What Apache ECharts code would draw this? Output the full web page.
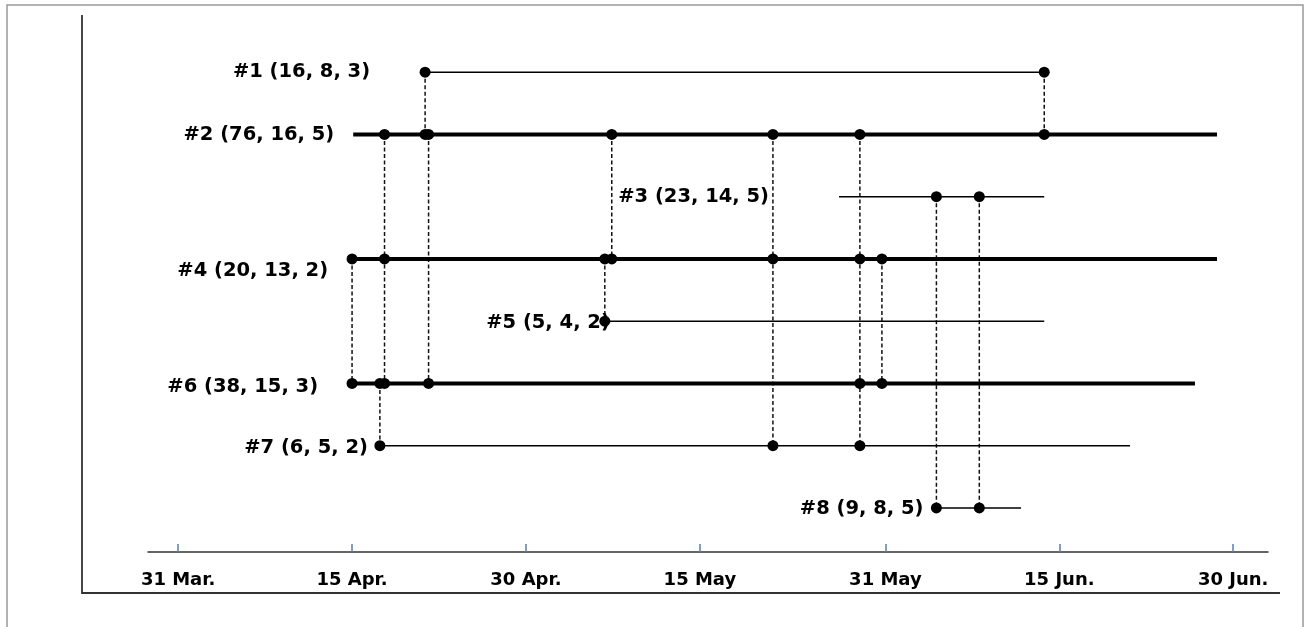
<!DOCTYPE html>
<html>
<head>
<meta charset="utf-8">
<script src="https://cdn.jsdelivr.net/npm/echarts@6/dist/echarts.min.js"></script>
<style>
    html, body { margin: 0; padding: 0; background: #fff; }
    #chart { width: 1310px; height: 627px; }
</style>
</head>
<body>
<div id="chart"></div>
<script>
"use strict";

// x values are days counted from 31 Mar.
var tickDays = [0, 15, 30, 45, 61, 76, 91];
var tickLabels = ["31 Mar.", "15 Apr.", "30 Apr.", "15 May", "31 May", "15 Jun.", "30 Jun."];

var rowNames = ["#1 (16, 8, 3)", "#2 (76, 16, 5)", "#3 (23, 14, 5)", "#4 (20, 13, 2)",
                "#5 (5, 4, 2)", "#6 (38, 15, 3)", "#7 (6, 5, 2)", "#8 (9, 8, 5)"];
var rowStart = [21.3, 15.1, 57.0, 15.0, 36.8, 15.0, 17.4, 65.4];
var rowEnd   = [74.7, 89.6, 74.7, 89.6, 74.7, 87.7, 82.1, 72.7];

// dots on each row
var rowDots = [
    [21.3, 74.7],
    [17.8, 21.3, 21.6, 37.4, 51.3, 58.8, 74.7],
    [65.4, 69.1],
    [15.0, 17.8, 36.8, 37.4, 51.3, 58.8, 60.7],
    [36.8],
    [15.0, 17.4, 17.8, 21.6, 58.8, 60.7],
    [17.4, 51.3, 58.8],
    [65.4, 69.1]
];

// dashed links: [day, from row, to row]
var links = [
    [21.3, 1, 2], [74.7, 1, 2],
    [21.6, 2, 6], [17.8, 2, 6], [37.4, 2, 4], [51.3, 2, 7], [58.8, 2, 7],
    [15.0, 4, 6], [36.8, 4, 5], [60.7, 4, 6],
    [17.4, 6, 7],
    [65.4, 3, 8], [69.1, 3, 8]
];

// styling per row
var rowWidth = [1.5, 4, 1.5, 4, 1.5, 4, 1.5, 1.5];
var labelGap = [55, 19, 70, 24, -5, 34, 12, 13];
var labelShiftY = [0, 1, 0, 12, 2, 4, 2, 1];

var chart = echarts.init(document.getElementById("chart"));

var series = [];

links.forEach(function (l) {
    series.push({
        type: "line",
        symbol: "none",
        silent: true,
        z: 2,
        lineStyle: { color: "#111", width: 1.5, type: [4, 2.5] },
        data: [[l[0], l[1]], [l[0], l[2]]]
    });
});

rowNames.forEach(function (name, i) {
    series.push({
        type: "line",
        symbol: "none",
        silent: true,
        z: 3,
        lineStyle: { color: "#000", width: rowWidth[i] },
        data: [[rowStart[i], i + 1], [rowEnd[i], i + 1]]
    });
});

var dotData = [];
rowDots.forEach(function (days, i) {
    days.forEach(function (d) { dotData.push([d, i + 1]); });
});
series.push({
    type: "scatter",
    symbolSize: 11,
    silent: true,
    z: 5,
    itemStyle: { color: "#000", opacity: 1 },
    data: dotData
});

series.push({
    type: "scatter",
    symbolSize: 0,
    silent: true,
    z: 6,
    itemStyle: { opacity: 1 },
    label: {
        show: true,
        position: "left",
        fontFamily: "DejaVu Sans",
        fontWeight: "bold",
        fontSize: 19.5,
        color: "#000",
        formatter: function (p) { return rowNames[p.dataIndex]; }
    },
    data: rowNames.map(function (n, i) {
        return {
            value: [rowStart[i], i + 1],
            label: { distance: labelGap[i], offset: [0, labelShiftY[i]] }
        };
    })
});

chart.setOption({
    animation: false,
    backgroundColor: "#fff",
    grid: { left: 148, right: 42, top: 41, bottom: 88 },
    xAxis: {
        type: "value",
        min: -2.6,
        max: 94.0,
        offset: 13,
        splitLine: { show: false },
        axisLine: { lineStyle: { color: "#333", width: 1.5 } },
        axisTick: {
            show: true,
            inside: true,
            length: 8,
            customValues: tickDays,
            lineStyle: { color: "#5a7db5", width: 1.5 }
        },
        axisLabel: {
            customValues: tickDays,
            margin: 19,
            fontFamily: "DejaVu Sans",
            fontWeight: "bold",
            fontSize: 18,
            color: "#000",
            formatter: function (v) {
                var k = tickDays.indexOf(v);
                return k < 0 ? "" : tickLabels[k];
            }
        }
    },
    yAxis: {
        type: "value",
        inverse: true,
        min: 0.5,
        max: 8.5,
        show: false
    },
    graphic: [
        {
            type: "polyline",
            silent: true,
            shape: { points: [[7, 627], [7, 5], [1303, 5], [1303, 627]] },
            style: { stroke: "#999", lineWidth: 1.5, fill: null }
        },
        {
            type: "polyline",
            silent: true,
            shape: { points: [[82, 15], [82, 593], [1280, 593]] },
            style: { stroke: "#333", lineWidth: 1.8, fill: null }
        }
    ],
    series: series
});
</script>
</body>
</html>
